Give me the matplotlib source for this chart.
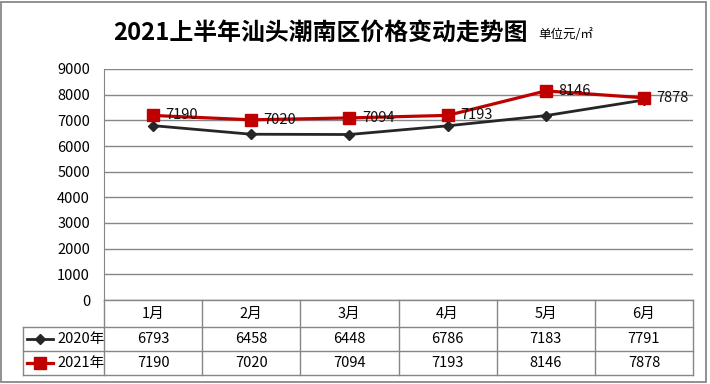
import matplotlib
matplotlib.use("Agg")
from matplotlib import pyplot as plt
from matplotlib.patches import Rectangle

plt.rcParams['font.family'] = ['Noto Sans CJK SC', 'DejaVu Sans']

# data
months = ["1月", "2月", "3月", "4月", "5月", "6月"]
series_names = ["2020年", "2021年"]
price_2020 = [6793, 6458, 6448, 6786, 7183, 7791]
price_2021 = [7190, 7020, 7094, 7193, 8146, 7878]
yticks = list(range(0, 10000, 1000))

W, H = 710, 384
fig = plt.figure(figsize=(W / 100, H / 100), dpi=100)


def fx(px):
    return px / W


def fy(py):
    return 1 - py / H


# outer border
fig.patches.append(Rectangle((fx(1.5), fy(381.5)), fx(706) - fx(1.5), fy(1.5) - fy(381.5),
                             transform=fig.transFigure, fill=False,
                             edgecolor="#888888", lw=1.3))

# titles
fig.text(fx(113), fy(33), "2021上半年汕头潮南区价格变动走势图", fontsize=17.2,
         fontweight="bold", ha="left", va="center")
fig.text(fx(538), fy(35), "单位元/㎡", fontsize=9, ha="left", va="center")

grid_c = "#868686"

# main plot area
ax = fig.add_axes([fx(104), fy(300), fx(693) - fx(104), fy(69) - fy(300)])
x = list(range(len(months)))
ax.set_xlim(-0.5, len(months) - 0.5)
ax.set_ylim(0, 9000)
ax.set_yticks(yticks)
ax.set_yticklabels([str(v) for v in yticks], fontsize=10.5)
ax.tick_params(axis="y", length=0, pad=10)
ax.set_xticks([])
for s in ["top", "right", "bottom"]:
    ax.spines[s].set_visible(False)
ax.spines["left"].set_color(grid_c)
ax.grid(axis="y", color=grid_c, lw=1)
ax.set_axisbelow(True)

ax.plot(x, price_2020, color="#262626", lw=2, marker="D", markersize=5, zorder=3)
ax.plot(x, price_2021, color="#C00000", lw=2.3, marker="s", markersize=8.5, zorder=4)
for xi, v in zip(x, price_2021):
    ax.annotate(str(v), (xi, v), xytext=(9, 0), textcoords="offset points",
                ha="left", va="center", fontsize=10.5, color="#111111", zorder=5)

# data table under the plot, sharing the category scale
extra = (104 - 23) / ((693 - 104) / len(months))
tb = fig.add_axes([fx(23), fy(375), fx(693) - fx(23), fy(300) - fy(375)])
tb.set_xlim(-0.5 - extra, len(months) - 0.5)
tb.set_ylim(375, 300)
tb.axis("off")

row_edges = [300, 327, 351, 375]
row_mid = [314, 339, 363]
left = -0.5 - extra
right = len(months) - 0.5

tb.plot([-0.5, right], [300, 300], color=grid_c, lw=1, clip_on=False)
for yy in row_edges[1:]:
    tb.plot([left, right], [yy, yy], color=grid_c, lw=1, clip_on=False)
tb.plot([left, left], [327, 375], color=grid_c, lw=1, clip_on=False)
for i in range(len(months) + 1):
    xx = i - 0.5
    tb.plot([xx, xx], [300, 375], color=grid_c, lw=1, clip_on=False)

for i, m in enumerate(months):
    tb.text(i, row_mid[0], m, ha="center", va="center", fontsize=10.5)
for row, vals in enumerate([price_2020, price_2021]):
    for i, v in enumerate(vals):
        tb.text(i, row_mid[row + 1], str(v), ha="center", va="center", fontsize=10.5)

# legend keys inside the row header cells
unit = 1 / ((693 - 104) / len(months))
styles = [dict(color="#262626", lw=2, marker="D", markersize=5),
          dict(color="#C00000", lw=2.3, marker="s", markersize=8)]
for row, (name, st) in enumerate(zip(series_names, styles)):
    yy = row_mid[row + 1]
    tb.plot([left + 4 * unit, left + 30 * unit], [yy, yy], clip_on=False,
            color=st["color"], lw=st["lw"])
    tb.plot([left + 17 * unit], [yy], clip_on=False, linestyle="none",
            marker=st["marker"], markersize=st["markersize"], color=st["color"])
    tb.text(left + 34 * unit, yy, name, ha="left", va="center", fontsize=10.5)

fig.savefig("out.png", dpi=100)
